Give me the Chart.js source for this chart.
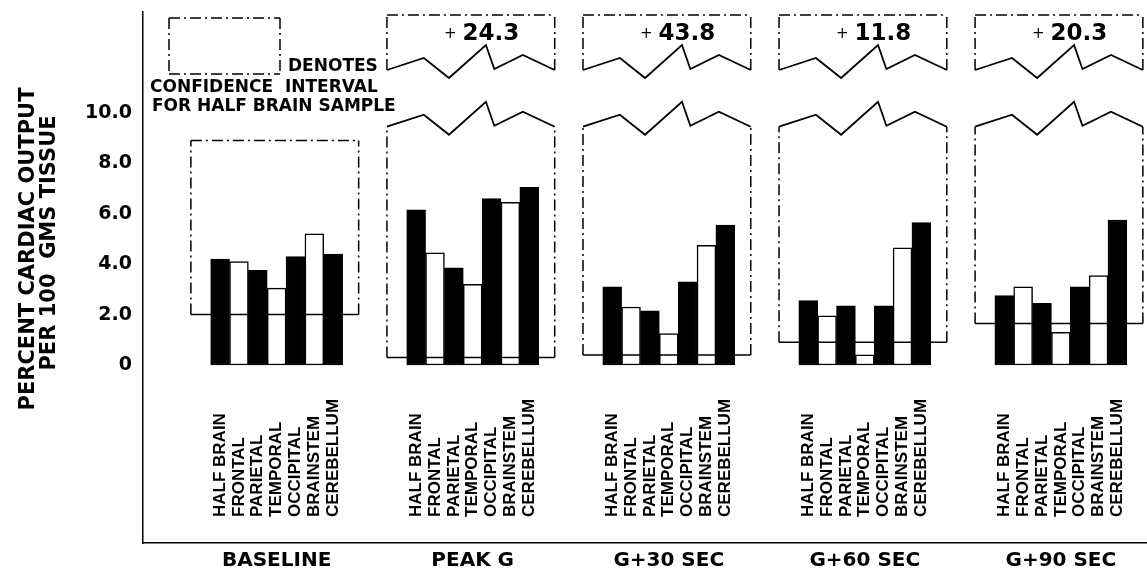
<!DOCTYPE html>
<html lang="en">
<head>
  <meta charset="UTF-8">
  <title>Regional Cardiac Output to Brain</title>
  <script src="https://cdn.jsdelivr.net/npm/chart.js"></script>
  <style>
    body {
      margin: 0;
      background: #fff;
    }

    #wrap {
      position: relative;
      width: 1147px;
      height: 577px;
    }
  </style>
</head>
<body>
  <div id="wrap"><canvas id="flowChart"></canvas></div>

  <script>
    // values
    const groups = ['BASELINE', 'PEAK G', 'G+30 SEC', 'G+60 SEC', 'G+90 SEC'];
    const regions = ['HALF BRAIN', 'FRONTAL', 'PARIETAL', 'TEMPORAL', 'OCCIPITAL', 'BRAINSTEM', 'CEREBELLUM'];
    const baseline = [4.2, 4.1, 3.75, 3.05, 4.3, 5.2, 4.4];
    const peakG = [6.15, 4.45, 3.85, 3.2, 6.6, 6.45, 7.05];
    const g30 = [3.1, 2.3, 2.15, 1.25, 3.3, 4.75, 5.55];
    const g60 = [2.55, 1.95, 2.35, 0.4, 2.35, 4.65, 5.65];
    const g90 = [2.75, 3.1, 2.45, 1.3, 3.1, 3.55, 5.75];
    const ciLow = [2.0, 0.3, 0.4, 0.9, 1.65];
    const ciHigh = [8.9, 24.3, 43.8, 11.8, 20.3];
    const yTicks = [0, 2, 4, 6, 8, 10];

    const series = [baseline, peakG, g30, g60, g90];
    const GROUP_STEP = 10.4;   // bar slots from one group to the next
    const BREAK_AT = 9.45;     // where the broken intervals are cut
    const BOLD = 'bold 17px "DejaVu Sans"';

    const points = [];
    const fills = [];
    series.forEach((vals, g) => {
      vals.forEach((v, i) => {
        points.push({ x: g * GROUP_STEP + i, y: v });
        fills.push(i % 2 ? '#ffffff' : '#000000');
      });
    });

    const ZIG_X = [0, 0.22, 0.37, 0.59, 0.64, 0.81, 1];
    const ZIG_Y = [0, -12, 8, -25, -1, -15, 0];

    function solid(ctx, x1, y1, x2, y2) {
      ctx.beginPath();
      ctx.moveTo(x1, y1);
      ctx.lineTo(x2, y2);
      ctx.stroke();
    }

    function dashDot(ctx, x1, y1, x2, y2) {
      ctx.save();
      ctx.setLineDash([11, 4, 2, 4]);
      solid(ctx, x1, y1, x2, y2);
      ctx.restore();
    }

    function zigzag(ctx, xl, xr, y0) {
      ctx.save();
      ctx.lineWidth = 1.8;
      ctx.beginPath();
      ZIG_X.forEach((f, k) => {
        const px = xl + f * (xr - xl);
        const py = y0 + ZIG_Y[k];
        if (k === 0) ctx.moveTo(px, py); else ctx.lineTo(px, py);
      });
      ctx.stroke();
      ctx.restore();
    }

    const annotate = {
      id: 'annotate',
      afterDatasetsDraw(chart) {
        const { ctx, chartArea: area, scales: { x, y } } = chart;
        const topTick = yTicks[yTicks.length - 1];
        ctx.save();
        ctx.strokeStyle = '#000';
        ctx.fillStyle = '#000';
        ctx.lineWidth = 1.5;

        groups.forEach((name, g) => {
          const xl = x.getPixelForValue(g * GROUP_STEP - 1.55);
          const xr = x.getPixelForValue(g * GROUP_STEP + 7.35);
          const yb = y.getPixelForValue(ciLow[g]);
          solid(ctx, xl, yb, xr, yb);

          if (ciHigh[g] <= topTick) {
            const yt = y.getPixelForValue(ciHigh[g]);
            dashDot(ctx, xl, yb, xl, yt);
            dashDot(ctx, xr, yb, xr, yt);
            dashDot(ctx, xl, yt, xr, yt);
          } else {
            const yt = y.getPixelForValue(BREAK_AT);
            dashDot(ctx, xl, yb, xl, yt);
            dashDot(ctx, xr, yb, xr, yt);
            zigzag(ctx, xl, xr, yt);

            // top part of the interval, above the break
            const top = area.top + 3;
            const base = area.top + 58;
            dashDot(ctx, xl, base, xl, top);
            dashDot(ctx, xr, base, xr, top);
            dashDot(ctx, xl, top, xr, top);
            zigzag(ctx, xl, xr, base);

            const cx = (xl + xr) / 2 + 11;
            const num = ciHigh[g].toFixed(1);
            ctx.font = 'bold 23px "DejaVu Sans"';
            const numW = ctx.measureText(num).width;
            ctx.textBaseline = 'middle';
            ctx.textAlign = 'left';
            ctx.fillText(num, cx - numW / 2 + 9, area.top + 22);
            ctx.font = '15px "DejaVu Sans"';
            ctx.textAlign = 'right';
            ctx.fillText('+', cx - numW / 2 + 3, area.top + 22);
          }

          // region names, written upward under each bar
          ctx.font = 'bold 17px "Liberation Sans"';
          ctx.textAlign = 'left';
          ctx.textBaseline = 'middle';
          regions.forEach((r, i) => {
            ctx.save();
            ctx.translate(x.getPixelForValue(g * GROUP_STEP + i), area.bottom - 26);
            ctx.rotate(-Math.PI / 2);
            ctx.fillText(r, 0, 0);
            ctx.restore();
          });

          ctx.font = 'bold 20px "DejaVu Sans"';
          ctx.textAlign = 'center';
          const gx = x.getPixelForValue(g * GROUP_STEP + 3);
          ctx.fillText(name, gx, area.bottom + 18);
        });

        // key box
        const kx = area.left + 26, ky = area.top + 6, kw = 111, kh = 56;
        dashDot(ctx, kx, ky, kx + kw, ky);
        dashDot(ctx, kx, ky + kh, kx + kw, ky + kh);
        dashDot(ctx, kx, ky, kx, ky + kh);
        dashDot(ctx, kx + kw, ky, kx + kw, ky + kh);
        ctx.font = BOLD;
        ctx.textAlign = 'left';
        ctx.textBaseline = 'middle';
        ctx.fillText('DENOTES', area.left + 145, area.top + 55);
        ctx.fillText('CONFIDENCE  INTERVAL', area.left + 7, area.top + 76);
        ctx.fillText('FOR HALF BRAIN SAMPLE', area.left + 9, area.top + 95);

        // axis title
        ctx.font = 'bold 21px "DejaVu Sans"';
        ctx.textAlign = 'center';
        const midY = area.top + 237;
        ctx.save();
        ctx.translate(29, midY);
        ctx.rotate(-Math.PI / 2);
        ctx.fillText('PERCENT CARDIAC OUTPUT', 0, 0);
        ctx.restore();
        ctx.save();
        ctx.translate(50, midY - 6);
        ctx.rotate(-Math.PI / 2);
        ctx.fillText('PER 100  GMS TISSUE', 0, 0);
        ctx.restore();

        ctx.restore();
      }
    };

    new Chart(document.getElementById('flowChart'), {
      type: 'bar',
      data: {
        datasets: [{
          data: points,
          backgroundColor: fills,
          borderColor: '#000',
          borderWidth: 1.5,
          borderSkipped: false,
          barPercentage: 1,
          categoryPercentage: 1
        }]
      },
      options: {
        responsive: true,
        maintainAspectRatio: false,
        animation: false,
        layout: { padding: { top: 12, right: 0, left: 0, bottom: 0 } },
        plugins: {
          legend: { display: false },
          tooltip: { enabled: false }
        },
        scales: {
          x: {
            type: 'linear',
            offset: false,
            min: -4.09,
            max: 49.17,
            grid: { display: false, drawTicks: false, offset: false },
            ticks: { display: false },
            border: { display: true, color: '#000', width: 1.5 },
            afterFit: (scale) => { scale.height = 34; scale.paddingLeft = 0; scale.paddingRight = 0; }
          },
          y: {
            min: -7.06,
            max: 14.0,
            grid: { display: false, drawTicks: false },
            border: { display: true, color: '#000', width: 1.5 },
            afterBuildTicks: (scale) => { scale.ticks = yTicks.map(v => ({ value: v })); },
            afterFit: (scale) => { scale.width = 143; scale.paddingTop = 0; scale.paddingBottom = 0; },
            ticks: {
              padding: 11,
              color: '#000',
              font: { family: 'DejaVu Sans', weight: 'bold', size: 19 },
              callback: (v) => v === 0 ? '0' : v.toFixed(1)
            }
          }
        }
      },
      plugins: [annotate]
    });
  </script>
</body>
</html>
